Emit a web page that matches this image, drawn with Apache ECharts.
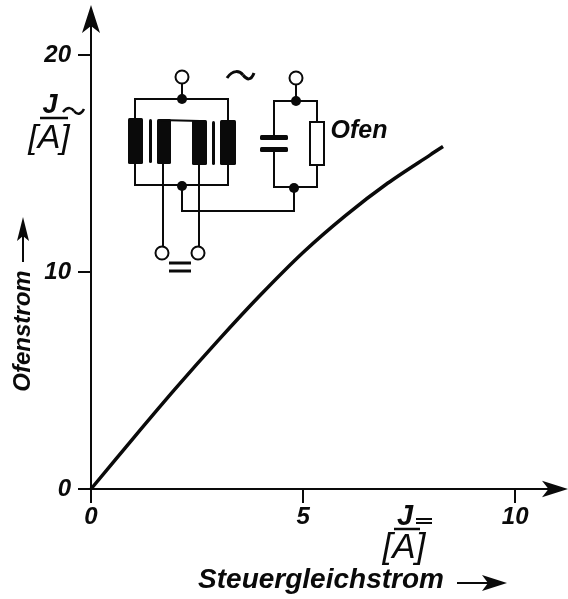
<!DOCTYPE html>
<html><head><meta charset="utf-8">
<style>html,body{margin:0;padding:0;background:#fff}#c{width:568px;height:599px}</style>
<script src="https://cdn.jsdelivr.net/npm/echarts@6/dist/echarts.min.js"></script>
</head><body><div id="c"></div>
<script>
const steuerstrom = [0, 1, 2, 3, 4, 5, 6, 7, 8, 8.3];
const ofenstrom   = [0, 2.35, 4.65, 6.85, 8.95, 10.9, 12.6, 14.1, 15.4, 15.78];
const xTicks = [0, 5, 10];
const yTicks = [0, 10, 20];
const xTitle = 'Steuergleichstrom';
const yTitle = 'Ofenstrom';
const unit = '[A]';

const INK = '#0a0a0a';
const FONT = '"Liberation Sans", Arial, sans-serif';
const ARROW = 'path://M0 0 L9 28 L0 21 L-9 28 Z';
const textStyle = (s, w) => ({fill: INK, font: `italic ${w || 'bold'} ${s}px ${FONT}`});

function line(pts, w) {
  return {type: 'polyline', shape: {points: pts}, style: {stroke: INK, lineWidth: w || 2, fill: null}, silent: true};
}
function dot(x, y, r) {
  return {type: 'circle', shape: {cx: x, cy: y, r: r || 5}, style: {fill: INK}, silent: true};
}
function terminal(x, y) {
  return {type: 'circle', shape: {cx: x, cy: y, r: 6.5}, style: {fill: '#fff', stroke: INK, lineWidth: 2}, silent: true};
}
function block(x, y, w, h) {
  return {type: 'rect', shape: {x: x, y: y, width: w, height: h, r: 1.5}, style: {fill: INK}, silent: true};
}
function head(pts) {
  return {type: 'polygon', shape: {points: pts}, style: {fill: INK}, silent: true};
}
function wave(x1, y1, cx1, cy1, cx2, cy2, x2, y2, w) {
  return {type: 'bezierCurve', shape: {x1: x1, y1: y1, cpx1: cx1, cpy1: cy1, cpx2: cx2, cpy2: cy2, x2: x2, y2: y2}, style: {stroke: INK, lineWidth: w || 3, fill: null}, silent: true};
}
function label(text, x, y, size, extra, weight) {
  return Object.assign({type: 'text', x: x, y: y, style: Object.assign(textStyle(size, weight), {text: text, textAlign: 'center', textVerticalAlign: 'middle'}), silent: true}, extra || {});
}

const schematic = [
  line([[182,83],[182,99]]), dot(182,99), terminal(182,77),
  line([[135,118],[135,99],[228,99],[228,120]]),
  block(128,118,15,46), block(220,120,16,45),
  block(149,119,3,44), block(212,121,3,44),
  block(157,119,14,45), block(192,120,15,45),
  line([[160,120],[200,121]]),
  line([[135,164],[135,185],[228,185],[228,165]]), dot(182,186),
  line([[182,186],[182,211],[294,211],[294,188]]),
  line([[163,164],[163,246]]), line([[199,165],[199,246]]),
  terminal(162,253), terminal(198,253),
  line([[169,263],[191,263]],3), line([[169,271],[191,271]],3),
  wave(227,78,233,69,240,71,243,75), wave(243,75,247,80,251,81,254,73),
  line([[296,84],[296,101]]), dot(296,101), terminal(296,78),
  line([[274,137],[274,101],[317,101],[317,122]]),
  line([[274,149],[274,187],[317,187],[317,165]]), dot(294,188),
  block(260,135,28,5), block(260,147,28,5),
  {type:'rect', shape:{x:310,y:122,width:14,height:43}, style:{fill:'#fff',stroke:INK,lineWidth:2}, silent:true},
  label('Ofen', 359, 131, 25),
  label('J', 50, 106, 27), wave(63,112,68,106,72,108,74,111,2.5), wave(74,111,77,115,81,115,84,109,2.5),
  line([[40,118],[68,118]],2.5), label(unit, 49, 139, 34, null, 'normal'),
  label('J', 405, 517, 29), line([[394,529],[420,529]],2.5),
  line([[416,519],[432,519]],2), line([[416,523],[432,523]],2),
  label(unit, 404, 548, 35, null, 'normal'),
  label(xTitle, 321, 580, 28),
  line([[457,583],[490,583]],2),
  head([[507,583],[482,575],[488,583],[482,591]]),
  label(yTitle, 23, 331, 24, {rotation: Math.PI / 2}),
  line([[23,262],[23,235]],2),
  head([[23,217],[17,241],[23,236],[29,241]])
];

const chart = echarts.init(document.getElementById('c'), null, {renderer: 'canvas'});
chart.setOption({
  animation: false,
  backgroundColor: '#fff',
  grid: {left: 91, top: 19, width: 464, height: 470, containLabel: false},
  xAxis: {
    type: 'value', min: 0, max: 10.94, interval: 5, splitLine: {show: false},
    axisLine: {show: true, lineStyle: {color: INK, width: 2}, symbol: ['none', ARROW], symbolSize: [18, 26]},
    axisTick: {show: true, customValues: xTicks, length: 14, lineStyle: {color: INK, width: 2}},
    axisLabel: {customValues: xTicks, margin: 16, color: INK, fontFamily: FONT, fontStyle: 'italic', fontWeight: 'bold', fontSize: 24}
  },
  yAxis: {
    type: 'value', min: 0, max: 21.66, interval: 10, splitLine: {show: false},
    axisLine: {show: true, lineStyle: {color: INK, width: 2}, symbol: ['none', ARROW], symbolSize: [18, 28]},
    axisTick: {show: true, customValues: yTicks, length: 13, lineStyle: {color: INK, width: 2}},
    axisLabel: {customValues: yTicks, margin: 20, color: INK, fontFamily: FONT, fontStyle: 'italic', fontWeight: 'bold', fontSize: 24}
  },
  series: [{
    type: 'line', smooth: 0.3, showSymbol: false,
    data: steuerstrom.map((x, i) => [x, ofenstrom[i]]),
    lineStyle: {color: INK, width: 3.5}
  }],
  graphic: schematic
});
</script></body></html>
